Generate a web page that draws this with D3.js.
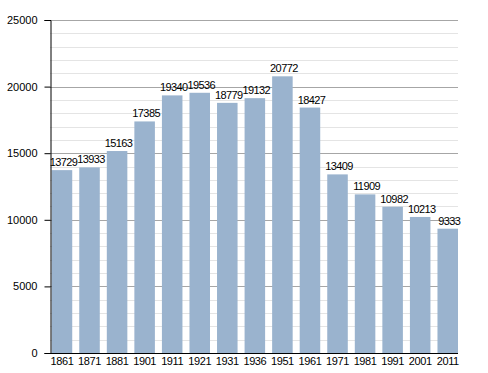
<!DOCTYPE html>
<html>
<head>
<meta charset="utf-8">
<script src="https://cdn.jsdelivr.net/npm/d3@7"></script>
<style>
  body { margin: 0; background: #fff; }
  text { font-family: "Liberation Sans", Arial, sans-serif; }
</style>
</head>
<body>
<div id="chart"></div>
<script>
// census years and population
const years = ['1861', '1871', '1881', '1901', '1911', '1921', '1931', '1936', '1951', '1961', '1971', '1981', '1991', '2001', '2011'];
const population = [13729, 13933, 15163, 17385, 19340, 19536, 18779, 19132, 20772, 18427, 13409, 11909, 10982, 10213, 9333];
const majorTicks = [0, 5000, 10000, 15000, 20000, 25000];

const width = 488, height = 373;
const plotLeft = 50, plotRight = 458, plotTop = 20, plotBottom = 353;

let svg = d3.select('#chart')
    .append('svg')
    .attr('width', width)
    .attr('height', height);

let x = d3.scaleBand()
    .domain(years)
    .range([51.7, plotRight])
    .paddingInner(0.255)
    .paddingOuter(0);

let y = d3.scaleLinear()
    .domain([0, 25000])
    .range([plotBottom, plotTop]);

// minor grid every 1000
let minor = d3.range(1000, 25000, 1000).filter(v => v % 5000 != 0);
svg.append('g')
    .selectAll('line')
    .data(minor)
    .join('line')
    .attr('x1', plotLeft).attr('x2', plotRight)
    .attr('y1', d => Math.round(y(d)) + 0.5)
    .attr('y2', d => Math.round(y(d)) + 0.5)
    .attr('stroke', '#e4e4e4');

// major grid
svg.append('g')
    .selectAll('line')
    .data(majorTicks.filter(v => v > 0))
    .join('line')
    .attr('x1', plotLeft).attr('x2', plotRight)
    .attr('y1', d => Math.round(y(d)) + 0.5)
    .attr('y2', d => Math.round(y(d)) + 0.5)
    .attr('stroke', '#a6a6a6');

// bars
svg.append('g')
    .selectAll('rect')
    .data(population)
    .join('rect')
    .attr('x', (d, i) => x(years[i]))
    .attr('y', d => y(d))
    .attr('width', x.bandwidth())
    .attr('height', d => plotBottom - y(d))
    .attr('fill', '#9ab3ce');

// value labels
svg.append('g')
    .selectAll('text')
    .data(population)
    .join('text')
    .attr('x', (d, i) => x(years[i]) + x.bandwidth() / 2 + 1.5)
    .attr('y', d => y(d) - 4)
    .attr('text-anchor', 'middle')
    .attr('font-size', 11)
    .attr('letter-spacing', '-0.6px')
    .attr('fill', '#000')
    .text(d => d);

// y axis with minor ticks
let yAxis = svg.append('g')
    .attr('transform', 'translate(' + (plotLeft + 0.5) + ',0)');
yAxis.call(d3.axisLeft(y).tickValues(minor).tickSize(3).tickFormat(''));
yAxis.call(d3.axisLeft(y).tickValues(majorTicks).tickSize(6).tickPadding(7).tickFormat(d3.format('d')));
yAxis.selectAll('.domain').attr('stroke', '#000');
yAxis.selectAll('text').attr('font-size', 11).attr('fill', '#000')
    .style('font-family', '"Liberation Sans", Arial, sans-serif');

// x axis
let xAxis = svg.append('g')
    .attr('transform', 'translate(0,' + (plotBottom + 0.5) + ')');
xAxis.call(d3.axisBottom(x).tickSize(0).tickPadding(4));
xAxis.select('.domain').attr('d', 'M' + plotLeft + ',0H' + plotRight).attr('stroke', '#000');
xAxis.selectAll('text').attr('font-size', 11).attr('fill', '#000')
    .attr('letter-spacing', '-0.4px')
    .style('font-family', '"Liberation Sans", Arial, sans-serif');
</script>
</body>
</html>
